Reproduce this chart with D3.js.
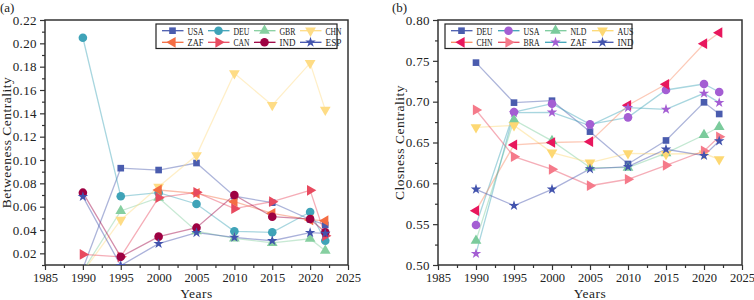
<!DOCTYPE html>
<html><head><meta charset="utf-8">
<script src="https://cdn.jsdelivr.net/npm/d3@7"></script>
<style>
body{margin:0;background:#fff;}
text{font-family:"Liberation Serif","DejaVu Serif",serif;fill:#222;}
</style></head>
<body>
<svg id="c" width="754" height="300"></svg>
<script>
const years = [1990, 1995, 2000, 2005, 2010, 2015, 2020, 2022];
const xTicks = [1985, 1990, 1995, 2000, 2005, 2010, 2015, 2020, 2025];
const yTicksA = [0.02, 0.04, 0.06, 0.08, 0.10, 0.12, 0.14, 0.16, 0.18, 0.20, 0.22];
const yTicksB = [0.50, 0.55, 0.60, 0.65, 0.70, 0.75, 0.80];

// (a) Betweeness centrality
const namesA = ["USA", "DEU", "GBR", "CHN", "ZAF", "CAN", "IND", "ESP"];
const usaA = [0.007, 0.093, 0.0914, 0.0974, 0.069, 0.0634, 0.049, 0.0443];
const deuA = [0.2048, 0.0689, 0.072, 0.0623, 0.0389, 0.038, 0.0554, 0.0308];
const gbrA = [0.005, 0.0563, 0.0677, 0.039, 0.0329, 0.029, 0.0325, 0.0222];
const chnA = [0.004, 0.0486, 0.077, 0.104, 0.1743, 0.147, 0.183, 0.143];
const zafA = [null, null, 0.0743, 0.0714, 0.0643, 0.0543, 0.0486, 0.048];
const canA = [0.0191, 0.017, 0.0677, 0.0723, 0.0583, 0.0643, 0.074, 0.035];
const indA = [0.072, 0.017, 0.0343, 0.042, 0.070, 0.0514, 0.0494, 0.038];
const espA = [0.0686, 0.0095, 0.0283, 0.0377, 0.0337, 0.0308, 0.0377, 0.0371];
const seriesA = [usaA, deuA, gbrA, chnA, zafA, canA, indA, espA];

// (b) Closness centrality
const namesB = ["DEU", "USA", "NLD", "AUS", "CHN", "BRA", "ZAF", "IND"];
const deuB = [0.7478, 0.6988, 0.7012, 0.6633, 0.6237, 0.6525, 0.6992, 0.6849];
const usaB = [0.549, 0.6873, 0.6975, 0.6723, 0.6808, 0.7143, 0.7216, 0.7118];
const nldB = [0.5298, 0.6776, 0.652, 0.6195, 0.6192, 0.637, 0.6592, 0.669];
const ausB = [0.6686, 0.671, 0.6376, 0.6253, 0.6367, 0.6359, 0.6365, 0.6294];
const chnB = [0.5665, 0.647, 0.650, 0.651, 0.6956, 0.7212, 0.771, 0.7845];
const braB = [0.6898, 0.6327, 0.6172, 0.5971, 0.605, 0.6221, 0.6396, 0.657];
const zafB = [0.5139, 0.6865, 0.687, 0.6707, 0.6926, 0.6906, 0.7102, 0.6988];
const indB = [0.5927, 0.5727, 0.5927, 0.6176, 0.6204, 0.6417, 0.6339, 0.6518];
const seriesB = [deuB, usaB, nldB, ausB, chnB, braB, zafB, indB];

// styles
const stylesA = [
  {m:"square", mc:"#4a5cae", lc:"#4a5cae"},
  {m:"circle", mc:"#3fa3b8", lc:"#3fa3b8"},
  {m:"up", mc:"#86cfa0", lc:"#86cfa0"},
  {m:"down", mc:"#fedc85", lc:"#fedc85"},
  {m:"left", mc:"#f46d43", lc:"#f46d43"},
  {m:"right", mc:"#e84a5f", lc:"#e84a5f"},
  {m:"circle", mc:"#9e0142", lc:"#9e0142"},
  {m:"star", mc:"#4253ad", lc:"#4253ad"}
];
const stylesB = [
  {m:"square", mc:"#4a5cae", lc:"#4a5cae"},
  {m:"circle", mc:"#a45ed3", lc:"#3fa3b8"},
  {m:"up", mc:"#7bcb9c", lc:"#7bcb9c"},
  {m:"down", mc:"#fdd873", lc:"#fdd873"},
  {m:"left", mc:"#e8175d", lc:"#f98a62"},
  {m:"right", mc:"#f57a8a", lc:"#e84a5f"},
  {m:"star", mc:"#a45ed3", lc:"#3fa3b8"},
  {m:"star", mc:"#4253ad", lc:"#4253ad"}
];

const svg = d3.select("#c");

function symbolPath(kind){
  const map = {square:[d3.symbolSquare,44,0], circle:[d3.symbolCircle,58,0], up:[d3.symbolTriangle,50,0],
    down:[d3.symbolTriangle,50,180], left:[d3.symbolTriangle,50,-90], right:[d3.symbolTriangle,50,90], star:[d3.symbolStar,34,0]};
  const s = map[kind];
  return {d: d3.symbol().type(s[0]).size(s[1])(), rot: s[2]};
}

function drawPanel(opt){
  const g = svg.append("g");
  const x = d3.scaleLinear().domain([1985, 2025]).range([opt.x0, opt.x1]);
  const y = d3.scaleLinear().domain(opt.yDomain).range([265, 20]);
  const id = "clip" + opt.key;
  g.append("clipPath").attr("id", id).append("rect")
    .attr("x", opt.x0).attr("y", 20).attr("width", opt.x1 - opt.x0).attr("height", 245);

  // axes
  const xa = g.append("g").attr("transform", "translate(0,265)")
    .call(d3.axisBottom(x).tickValues(xTicks).tickFormat(d3.format("d")).tickSize(5).tickSizeOuter(0).tickPadding(3));
  const xm = g.append("g").attr("transform", "translate(0,265)")
    .call(d3.axisBottom(x).tickValues(d3.range(1987.5, 2025, 5)).tickFormat("").tickSize(3).tickSizeOuter(0));
  const ya = g.append("g").attr("transform", `translate(${opt.x0},0)`)
    .call(d3.axisLeft(y).tickValues(opt.yTicks).tickFormat(d3.format(".2f")).tickSize(5).tickSizeOuter(0).tickPadding(3));
  const ym = g.append("g").attr("transform", `translate(${opt.x0},0)`)
    .call(d3.axisLeft(y).tickValues(opt.yMinor).tickFormat("").tickSize(3).tickSizeOuter(0));
  [xa, xm, ya, ym].forEach(a => {
    a.select(".domain").remove();
    a.selectAll("line").attr("stroke", "#333").attr("stroke-width", 1.2);
  });
  xa.selectAll("text").style("font-family", '"Liberation Serif", serif').style("font-size", "12.5px").attr("fill", "#222");
  ya.selectAll("text").style("font-family", '"Liberation Serif", serif').style("font-size", "13px")
    .style("letter-spacing", "0.4px").attr("fill", "#222");

  // frame
  g.append("rect").attr("x", opt.x0).attr("y", 20).attr("width", opt.x1 - opt.x0).attr("height", 245)
    .attr("fill", "none").attr("stroke", "#333").attr("stroke-width", 1.5);

  // series
  const plot = g.append("g").attr("clip-path", `url(#${id})`);
  const line = d3.line().defined(d => d[1] != null).x(d => x(d[0])).y(d => y(d[1]));
  opt.series.forEach((vals, i) => {
    const pts = years.map((yr, j) => [yr, vals[j]]);
    plot.append("path").attr("d", line(pts)).attr("fill", "none")
      .attr("stroke", opt.styles[i].lc).attr("stroke-opacity", 0.45).attr("stroke-width", 1.3);
  });
  opt.series.forEach((vals, i) => {
    const sp = symbolPath(opt.styles[i].m);
    years.forEach((yr, j) => {
      if (vals[j] == null) return;
      plot.append("path").attr("d", sp.d)
        .attr("transform", `translate(${x(yr)},${y(vals[j])}) rotate(${sp.rot})`)
        .attr("fill", opt.styles[i].mc);
    });
  });

  // legend
  const lg = g.append("g");
  lg.append("rect").attr("x", opt.lx).attr("y", 24).attr("width", opt.lw).attr("height", 24.5)
    .attr("fill", "#fff").attr("stroke", "#222").attr("stroke-width", 1.2);
  opt.names.forEach((n, i) => {
    const col = i % 4, row = Math.floor(i / 4);
    const cx = opt.lx + 6 + col * opt.lstep;
    const cy = 30.7 + row * 11.6;
    const st = opt.styles[i];
    lg.append("line").attr("x1", cx).attr("x2", cx + 21.5).attr("y1", cy).attr("y2", cy)
      .attr("stroke", st.lc).attr("stroke-width", 1.3);
    const sp = symbolPath(st.m);
    lg.append("path").attr("d", sp.d).attr("transform", `translate(${cx + 10.5},${cy}) rotate(${sp.rot})`)
      .attr("fill", st.mc);
    lg.append("text").attr("x", cx + 25.5).attr("y", cy + 3.8).text(n)
      .style("font-size", "10.5px").attr("textLength", 16).attr("lengthAdjust", "spacingAndGlyphs");
  });

  // titles
  g.append("text").attr("x", (opt.x0 + opt.x1) / 2).attr("y", 298).attr("text-anchor", "middle")
    .style("font-size", "13.5px").style("letter-spacing", "0.5px").text("Years");
  g.append("text").attr("transform", `translate(${opt.ytx},142.5) rotate(-90)`).attr("text-anchor", "middle")
    .style("font-size", "13.5px").style("letter-spacing", "0.5px").text(opt.ytitle);
  g.append("text").attr("x", opt.px).attr("y", 12).style("font-size", "13px").text(opt.panel);
}

drawPanel({key:"a", x0:45, x1:348, yDomain:[0.01, 0.22], yTicks:yTicksA,
  yMinor:d3.range(0.01, 0.2201, 0.02).map(v => +v.toFixed(3)),
  series:seriesA, styles:stylesA, names:namesA, lx:156, lw:181, lstep:46,
  ytitle:"Betweeness Centrality", ytx:11, panel:"(a)", px:0});
drawPanel({key:"b", x0:438, x1:742, yDomain:[0.5, 0.8], yTicks:yTicksB,
  yMinor:d3.range(0.525, 0.8, 0.05).map(v => +v.toFixed(3)),
  series:seriesB, styles:stylesB, names:namesB, lx:445, lw:187, lstep:47,
  ytitle:"Closness Centrality", ytx:404, panel:"(b)", px:392});
</script>
</body></html>
